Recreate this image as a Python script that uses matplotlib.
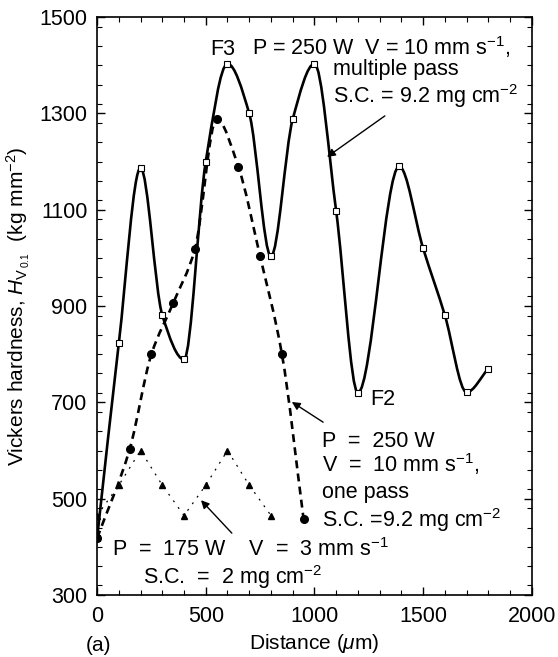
import matplotlib
matplotlib.use("Agg")
import matplotlib.pyplot as plt
from matplotlib.path import Path
from matplotlib.patches import PathPatch
from matplotlib.ticker import MultipleLocator
import numpy as np

plt.rcParams['font.family'] = ['Liberation Sans', 'DejaVu Sans']
plt.rcParams['mathtext.fontset'] = 'custom'
plt.rcParams['mathtext.rm'] = 'Liberation Sans'
plt.rcParams['mathtext.it'] = 'Liberation Sans:italic'
plt.rcParams['mathtext.default'] = 'regular'

# ---- data ----
multi_x = [0, 100, 200, 300, 400, 500, 600, 700, 800, 900, 1000, 1100, 1200, 1390, 1500, 1600, 1700, 1800]
multi_y = [418, 823, 1187, 881, 789, 1200, 1403, 1300, 1003, 1288, 1403, 1097, 720, 1190, 1020, 881, 721, 770]

one_x = [0, 150, 250, 350, 450, 550, 650, 750, 850, 950]
one_y = [418, 603, 800, 906, 1018, 1288, 1189, 1003, 801, 458]

low_x = [0, 100, 200, 300, 400, 500, 600, 700, 800]
low_y = [465, 528, 600, 528, 465, 528, 600, 528, 465]

x_ticks = [0, 500, 1000, 1500, 2000]
y_ticks = [300, 500, 700, 900, 1100, 1300, 1500]


def smooth_path(xs, ys):
    """Shape-preserving (PCHIP-like) cubic through the points, as Bezier segments."""
    x = np.asarray(xs, float)
    y = np.asarray(ys, float)
    h = np.diff(x)
    d = np.diff(y) / h
    n = len(x)
    m = np.zeros(n)
    m[0], m[-1] = d[0], d[-1]
    for k in range(1, n - 1):
        if d[k - 1] * d[k] > 0:
            w1 = 2 * h[k] + h[k - 1]
            w2 = h[k] + 2 * h[k - 1]
            m[k] = (w1 + w2) / (w1 / d[k - 1] + w2 / d[k])
    verts = [(x[0], y[0])]
    codes = [Path.MOVETO]
    for k in range(n - 1):
        verts += [(x[k] + h[k] / 3, y[k] + m[k] * h[k] / 3),
                  (x[k + 1] - h[k] / 3, y[k + 1] - m[k + 1] * h[k] / 3),
                  (x[k + 1], y[k + 1])]
        codes += [Path.CURVE4] * 3
    return Path(verts, codes)


fig = plt.figure(figsize=(5.58, 6.57), dpi=100)
ax = fig.add_axes([0.174, 0.0944, 0.779, 0.8796])

# multiple pass (solid smooth)
ax.add_patch(PathPatch(smooth_path(multi_x, multi_y), fill=False, lw=1.9,
                       edgecolor='black', capstyle='round', joinstyle='round', zorder=3))
# one pass (dashed smooth)
ax.add_patch(PathPatch(smooth_path(one_x, one_y), fill=False, lw=1.9,
                       edgecolor='black', linestyle=(0, (3.0, 2.0)), zorder=3))
# low power (dotted)
ax.plot(low_x, low_y, color='black', lw=0.9, linestyle=(0, (1.5, 5)), zorder=2)

ax.plot(multi_x, multi_y, linestyle='none', marker='s', ms=4.0, mfc='white',
        mec='black', mew=0.8, zorder=4)
ax.plot(one_x, one_y, linestyle='none', marker='o', ms=5.5, mfc='black',
        mec='black', zorder=5)
ax.plot(low_x, low_y, linestyle='none', marker='^', ms=5, mfc='black',
        mec='black', zorder=5)

ax.set_xlim(0, 2000)
ax.set_ylim(300, 1500)
ax.set_xticks(x_ticks)
ax.set_yticks(y_ticks)
ax.xaxis.set_minor_locator(MultipleLocator(100))
ax.yaxis.set_minor_locator(MultipleLocator(40))
ax.tick_params(which='both', direction='in', top=True, right=True, labelsize=15.5)
ax.tick_params(which='major', length=6, width=1.0)
ax.tick_params(which='minor', length=3.5, width=0.8)
ax.tick_params(axis='y', pad=7)
ax.tick_params(axis='x', pad=8)
for s in ax.spines.values():
    s.set_linewidth(1.2)

ax.set_xlabel(r'Distance ($\mathit{\mu}$m)', fontsize=15)
ax.set_ylabel(r'Vickers hardness, $\mathit{H}_{\mathrm{V}_{\,0.1}}$  (kg mm$^{-2}$)', fontsize=15)
ax.xaxis.set_label_coords(0.5, -0.064)
ax.yaxis.set_label_coords(-0.149, 0.5)

fs = 15.5
tk = dict(transform=ax.transAxes, fontsize=fs, va='baseline', ha='left')
ax.text(0.260, 0.934, 'F3', **tk)
ax.text(0.356, 0.934, r'P = 250 W  V = 10 mm s$^{-1}$,', **tk)
ax.text(0.5425, 0.900, 'multiple pass', **tk)
ax.text(0.5425, 0.851, r'S.C. = 9.2 mg cm$^{-2}$', **tk)
ax.text(0.628, 0.329, 'F2', **tk)
ax.text(0.517, 0.256, 'P  =  250 W', **tk)
ax.text(0.517, 0.213, r'V  =  10 mm s$^{-1}$,', **tk)
ax.text(0.517, 0.168, 'one pass', **tk)
ax.text(0.517, 0.118, r'S.C. =9.2 mg cm$^{-2}$', **tk)
ax.text(0.0345, 0.0675, r'P  =  175 W    V  =  3 mm s$^{-1}$', **tk)
ax.text(0.106, 0.019, r'S.C.  =  2 mg cm$^{-2}$', **tk)

ap = dict(arrowstyle='-|>', lw=1.0, color='black', mutation_scale=12, shrinkA=0, shrinkB=0)
ax.annotate('', xy=(0.529, 0.758), xytext=(0.662, 0.829),
            xycoords='axes fraction', textcoords='axes fraction', arrowprops=ap)
ax.annotate('', xy=(0.448, 0.334), xytext=(0.520, 0.299),
            xycoords='axes fraction', textcoords='axes fraction', arrowprops=ap)
ax.annotate('', xy=(0.239, 0.164), xytext=(0.310, 0.107),
            xycoords='axes fraction', textcoords='axes fraction', arrowprops=ap)

fig.text(0.176, 0.018, '(a)', fontsize=15, ha='center', va='center')

fig.savefig('out.png', dpi=100)
